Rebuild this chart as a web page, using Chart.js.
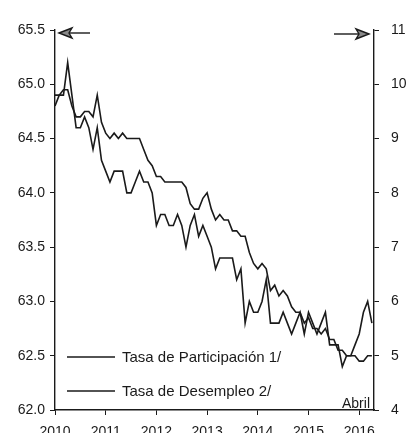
<!DOCTYPE html>
<html>
<head>
<meta charset="utf-8">
<script src="https://cdn.jsdelivr.net/npm/chart.js"></script>
<style>
  html, body { margin: 0; padding: 0; background: #fff; overflow: hidden; }
  #wrap { width: 406px; height: 450px; }
</style>
</head>
<body>
<div id="wrap"><canvas id="myChart" width="406" height="450"></canvas></div>
<script>
// monthly, Jan 2010 .. Apr 2016
const participacion = [
  64.8, 64.9, 64.9, 65.2, 64.9, 64.6, 64.6, 64.7, 64.6, 64.4, 64.6, 64.3,
  64.2, 64.1, 64.2, 64.2, 64.2, 64.0, 64.0, 64.1, 64.2, 64.1, 64.1, 64.0,
  63.7, 63.8, 63.8, 63.7, 63.7, 63.8, 63.7, 63.5, 63.7, 63.8, 63.6, 63.7,
  63.6, 63.5, 63.3, 63.4, 63.4, 63.4, 63.4, 63.2, 63.3, 62.8, 63.0, 62.9,
  62.9, 63.0, 63.2, 62.8, 62.8, 62.8, 62.9, 62.8, 62.7, 62.8, 62.9, 62.7,
  62.9, 62.8, 62.7, 62.8, 62.9, 62.6, 62.6, 62.6, 62.4, 62.5, 62.5, 62.6,
  62.7, 62.9, 63.0, 62.8
];
const desempleo = [
  9.8, 9.8, 9.9, 9.9, 9.6, 9.4, 9.4, 9.5, 9.5, 9.4, 9.8, 9.3,
  9.1, 9.0, 9.1, 9.0, 9.1, 9.0, 9.0, 9.0, 9.0, 8.8, 8.6, 8.5,
  8.3, 8.3, 8.2, 8.2, 8.2, 8.2, 8.2, 8.1, 7.8, 7.7, 7.7, 7.9,
  8.0, 7.7, 7.5, 7.6, 7.5, 7.5, 7.3, 7.3, 7.2, 7.2, 6.9, 6.7,
  6.6, 6.7, 6.6, 6.2, 6.3, 6.1, 6.2, 6.1, 5.9, 5.8, 5.8, 5.6,
  5.7, 5.5, 5.5, 5.4, 5.5, 5.3, 5.3, 5.1, 5.1, 5.0, 5.0, 5.0,
  4.9, 4.9, 5.0, 5.0
];
const firstYear = 2010;
const seriesNames = ['Tasa de Participación 1/', 'Tasa de Desempleo 2/'];
const lastMonthLabel = 'Abril';

const ink = '#1a1a1a';
const font = { family: 'Liberation Sans, Arial, sans-serif', size: 14 };

function toPoints(arr) {
  return arr.map((v, i) => ({ x: i, y: v }));
}

// arrows at the top and the inside legend, drawn after the chart
const extras = {
  id: 'extras',
  afterDraw(chart) {
    const ctx = chart.ctx;
    const a = chart.chartArea;
    ctx.save();
    ctx.strokeStyle = ink;
    ctx.lineWidth = 1.4;

    function arrow(x1, x2, y) {
      const dir = x2 > x1 ? 1 : -1;
      ctx.beginPath();
      ctx.moveTo(x1, y);
      ctx.lineTo(x2 - dir * 10, y);
      ctx.stroke();
      ctx.beginPath();
      ctx.moveTo(x2, y);
      ctx.lineTo(x2 - dir * 13, y - 5);
      ctx.lineTo(x2 - dir * 10, y);
      ctx.lineTo(x2 - dir * 13, y + 5);
      ctx.closePath();
      ctx.fillStyle = '#888';
      ctx.fill();
      ctx.stroke();
    }
    arrow(a.left + 35, a.left + 4, a.top + 3);
    arrow(a.right - 40, a.right - 5, a.top + 4);

    // legend
    ctx.font = '15px ' + font.family;
    ctx.fillStyle = ink;
    ctx.textBaseline = 'middle';
    const rows = [a.bottom - 53, a.bottom - 19];
    chart.data.datasets.forEach((ds, i) => {
      const y = rows[i];
      ctx.beginPath();
      ctx.lineWidth = 1.6;
      ctx.moveTo(a.left + 12, y);
      ctx.lineTo(a.left + 60, y);
      ctx.stroke();
      ctx.fillText(ds.label, a.left + 67, y + 1);
    });

    ctx.font = '14px ' + font.family;
    ctx.textAlign = 'right';
    ctx.textBaseline = 'bottom';
    ctx.fillText(lastMonthLabel, a.right - 4, a.bottom + 1);
    ctx.restore();
  }
};

const config = {
  type: 'line',
  data: {
    datasets: [
      {
        label: seriesNames[0],
        data: toPoints(participacion),
        yAxisID: 'y',
        borderColor: ink,
        borderWidth: 1.6,
        pointRadius: 0,
        tension: 0
      },
      {
        label: seriesNames[1],
        data: toPoints(desempleo),
        yAxisID: 'y2',
        borderColor: ink,
        borderWidth: 1.6,
        pointRadius: 0,
        tension: 0
      }
    ]
  },
  options: {
    responsive: false,
    animation: false,
    devicePixelRatio: 1,
    layout: { padding: { top: 30, left: 0, right: 0, bottom: 0 } },
    plugins: {
      legend: { display: false },
      tooltip: { enabled: false }
    },
    scales: {
      x: {
        type: 'linear',
        min: 0,
        max: 75.5,
        grid: { display: true, drawOnChartArea: false, drawTicks: true, tickLength: 5, color: ink },
        border: { display: true, color: ink, width: 1.4 },
        ticks: {
          stepSize: 12,
          includeBounds: false,
          maxRotation: 0,
          padding: 9,
          color: ink,
          font: font,
          callback: v => String(firstYear + v / 12)
        },
        afterFit(scale) { scale.height = 40; }
      },
      y: {
        position: 'left',
        min: 62,
        max: 65.5,
        grid: { display: true, drawOnChartArea: false, drawTicks: true, tickLength: 5, color: ink },
        border: { display: true, color: ink, width: 1.4 },
        ticks: {
          stepSize: 0.5,
          padding: 5,
          color: ink,
          font: font,
          callback: v => v.toFixed(1)
        },
        afterFit(scale) { scale.width = 55; }
      },
      y2: {
        position: 'right',
        min: 4,
        max: 11,
        grid: { display: true, drawOnChartArea: false, drawTicks: true, tickLength: 5, color: ink },
        border: { display: true, color: ink, width: 1.4 },
        ticks: {
          stepSize: 1,
          padding: 12,
          color: ink,
          font: font
        },
        afterFit(scale) { scale.width = 32; }
      }
    }
  },
  plugins: [extras]
};

var myChart = new Chart(document.getElementById('myChart'), config);
</script>
</body>
</html>
